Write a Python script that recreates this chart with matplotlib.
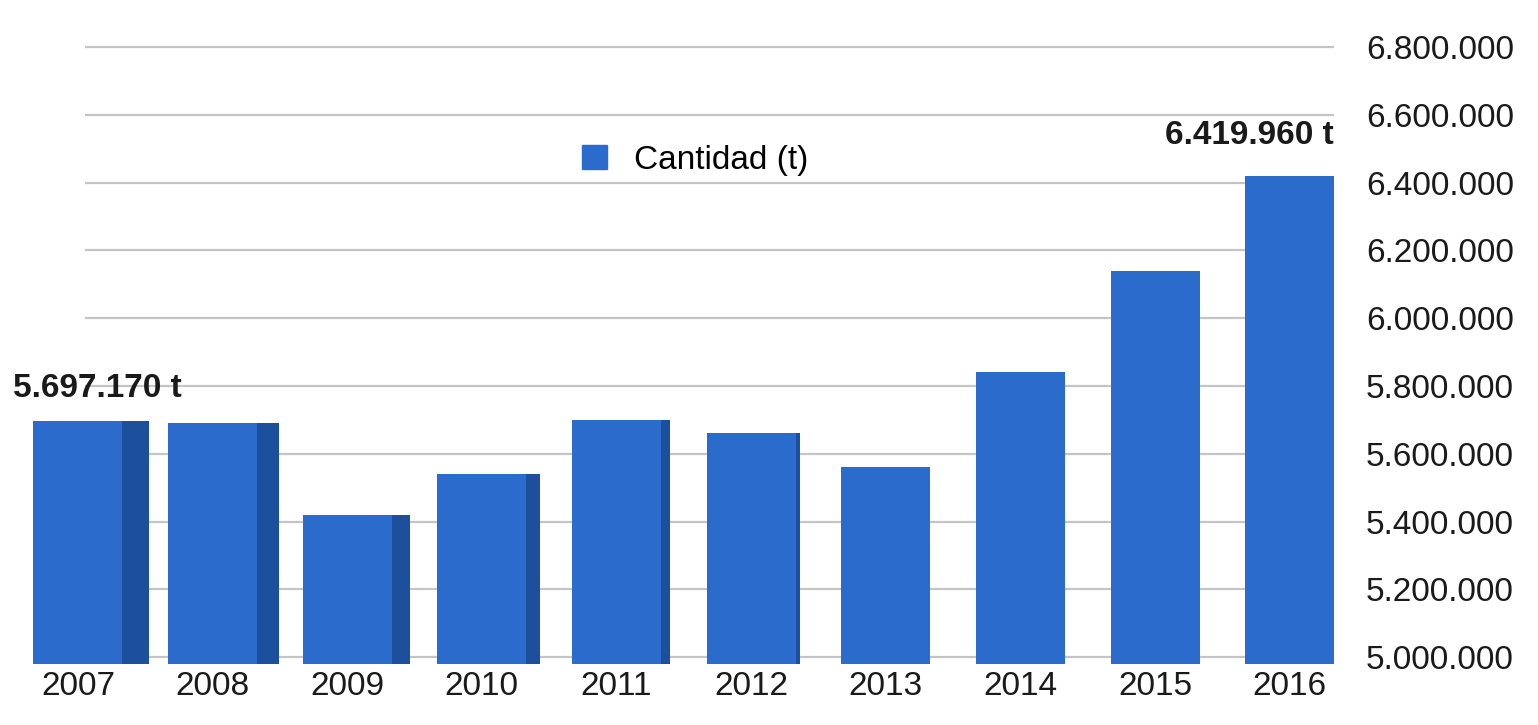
import matplotlib
matplotlib.use("Agg")
import matplotlib.pyplot as plt
import matplotlib.ticker as mticker
from matplotlib.patches import Patch
import numpy as np

plt.rcParams['font.family'] = ['Liberation Sans', 'DejaVu Sans']

# datos (toneladas)
years = ['2007', '2008', '2009', '2010', '2011', '2012', '2013', '2014', '2015', '2016']
cantidad = [5697170, 5690000, 5420000, 5540000, 5700000, 5660000, 5560000, 5840000, 6140000, 6419960]
yticks = [5000000, 5200000, 5400000, 5600000, 5800000, 6000000, 6200000, 6400000, 6600000, 6800000]

front_col = '#2a6bcb'
side_col = '#1c4f9c'
base = 4980000

fig = plt.figure(figsize=(15.38, 7.25), dpi=100)
ax = fig.add_axes([0.013, 0.0703, 0.8615, 0.8883])

x = np.arange(len(years))
w = 0.66
side_w = np.clip(np.linspace(0.2, -0.1, len(years)), 0, None)
heights = np.array(cantidad) - base

# lineas de la cuadricula (no llegan al borde izquierdo)
ax.hlines(yticks, 0.05, 9.33, color='#c4c4c4', linewidth=1.6, zorder=0)

# cara lateral (efecto 3D)
ax.bar(x + w / 2, heights, width=side_w, bottom=base, align='edge',
       color=side_col, zorder=2)
# cara frontal
ax.bar(x, heights, width=w, bottom=base, color=front_col, zorder=3)

ax.set_xlim(-0.43, 9.41)
ax.set_ylim(4950000, 6850000)
ax.set_yticks(yticks)
ax.yaxis.set_major_formatter(mticker.FuncFormatter(lambda v, p: f'{int(v):,}'.replace(',', '.')))
ax.yaxis.tick_right()
ax.set_xticks(x)
ax.set_xticklabels(years)
ax.tick_params(axis='both', length=0, labelsize=24, colors='#1a1a1a')
ax.tick_params(axis='y', pad=15)
ax.tick_params(axis='x', pad=-2)
for s in ax.spines.values():
    s.set_visible(False)

# etiquetas de valor
ax.annotate('5.697.170 t', xy=(x[0], cantidad[0]), xytext=(14, 12),
            textcoords='offset points', ha='center', va='bottom',
            fontsize=24, fontweight='bold', color='#1a1a1a')
ax.annotate('6.419.960 t', xy=(x[-1] + w / 2, cantidad[-1]), xytext=(0, 18),
            textcoords='offset points', ha='right', va='bottom',
            fontsize=24, fontweight='bold', color='#1a1a1a')

fig.legend(handles=[Patch(color=front_col, label='Cantidad (t)')],
           loc='center left', bbox_to_anchor=(552 / 1538, 1 - 160 / 725),
           frameon=False, fontsize=24, handlelength=0.75, handleheight=0.75,
           handletextpad=0.8)

fig.savefig('out.png', dpi=100)
